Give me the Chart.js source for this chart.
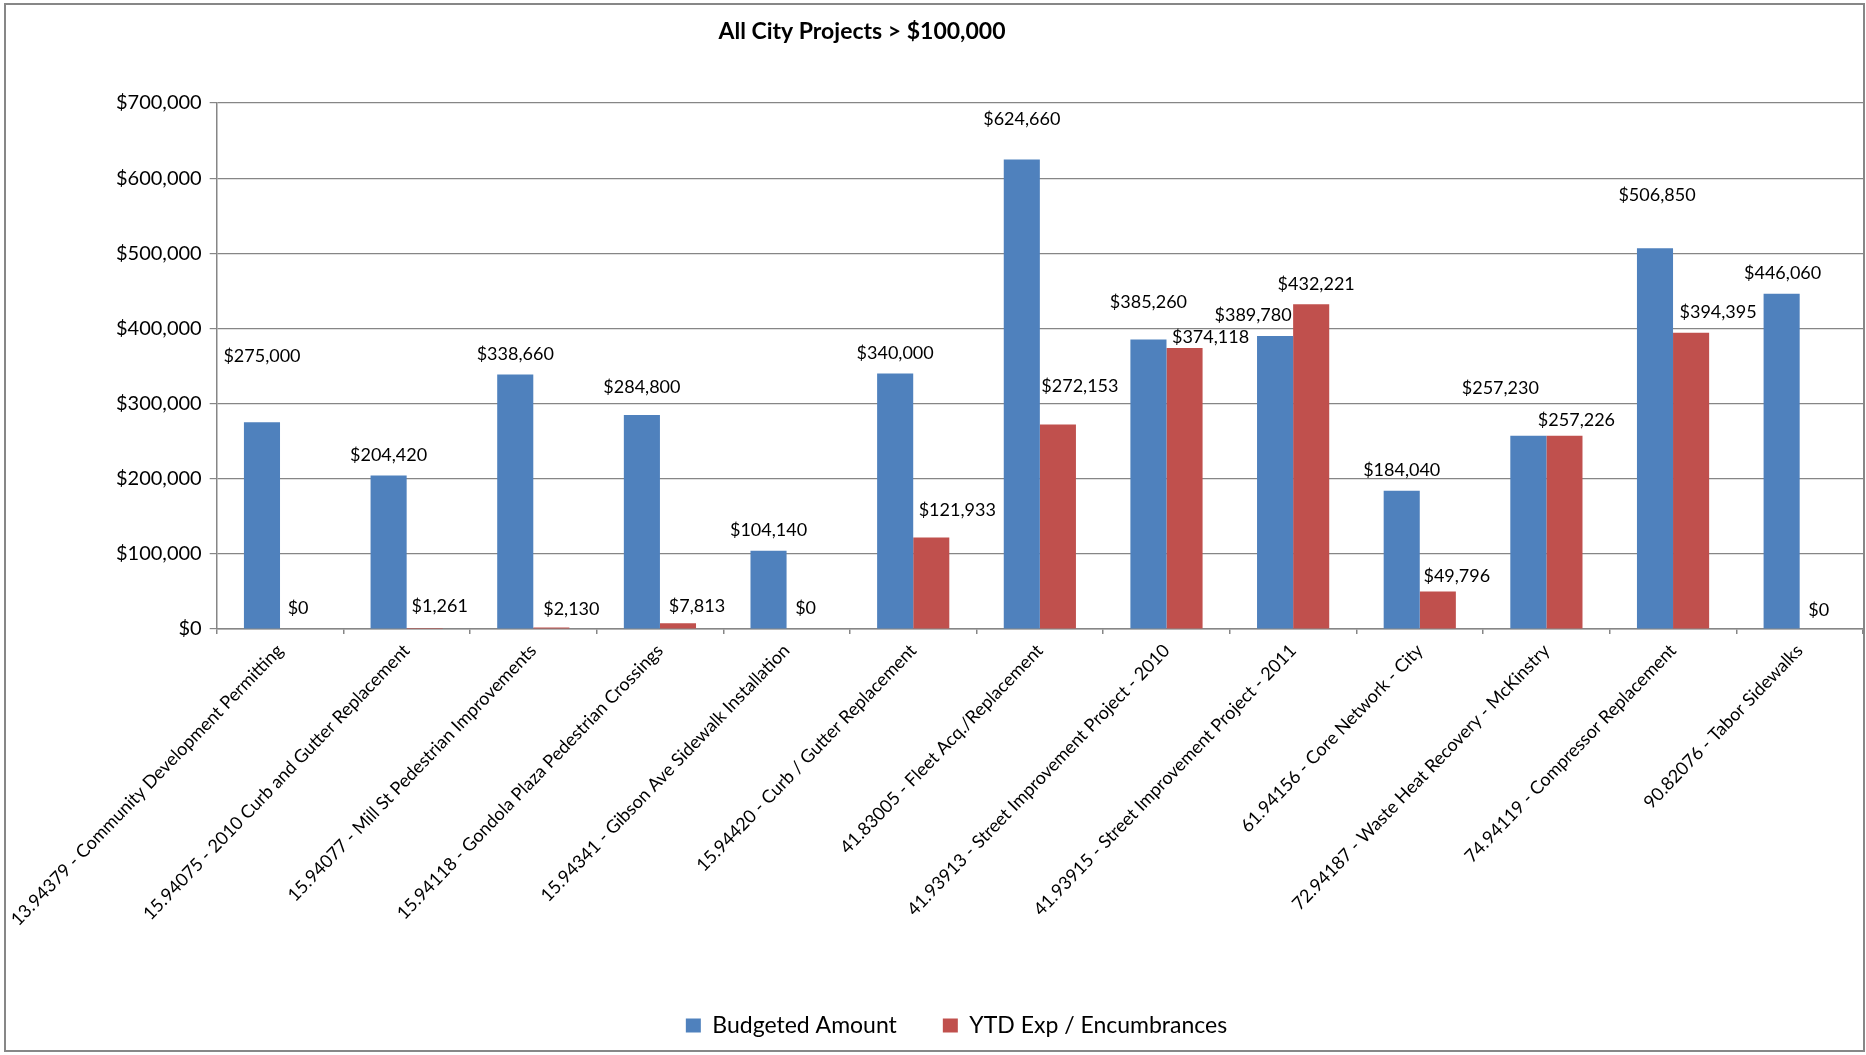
<!DOCTYPE html>
<html>
<head>
<meta charset="utf-8">
<title>All City Projects &gt; $100,000</title>
<script src="https://cdn.jsdelivr.net/npm/chart.js@4.4.1/dist/chart.umd.min.js"></script>
<style>
  html, body { margin: 0; padding: 0; background: #ffffff; }
  #wrap { position: relative; width: 1866px; height: 1055px; }
</style>
</head>
<body>
<div id="wrap"><canvas id="projects" width="1866" height="1055"></canvas></div>
<script>
// Project list and dollar amounts
const categories = [
  '13.94379 - Community Development Permitting',
  '15.94075 - 2010 Curb and Gutter Replacement',
  '15.94077 - Mill St Pedestrian Improvements',
  '15.94118 - Gondola Plaza Pedestrian Crossings',
  '15.94341 - Gibson Ave Sidewalk Installation',
  '15.94420 - Curb / Gutter Replacement',
  '41.83005 - Fleet Acq./Replacement',
  '41.93913 - Street Improvement Project - 2010',
  '41.93915 - Street Improvement Project - 2011',
  '61.94156 - Core Network - City',
  '72.94187 - Waste Heat Recovery - McKinstry',
  '74.94119 - Compressor Replacement',
  '90.82076 - Tabor Sidewalks'
];
const budgetedAmount = [275000, 204420, 338660, 284800, 104140, 340000, 624660, 385260, 389780, 184040, 257230, 506850, 446060];
const ytdExpEncumbrances = [0, 1261, 2130, 7813, 0, 121933, 272153, 374118, 432221, 49796, 257226, 394395, 0];
const yTickValues = [0, 100000, 200000, 300000, 400000, 500000, 600000, 700000];

const seriesNames = ['Budgeted Amount', 'YTD Exp / Encumbrances'];
const seriesColors = ['#4F81BD', '#C0504D'];

// Hand-placed value labels: [dx, dy] in pixels, dy moves the label up
const budgetLabelShift = [[0,46],[0,0],[0,0],[0,7],[0,0],[0,0],[0,20],[0,17],[-22,0],[0,0],[-28,27],[2,32],[1,0]];
const ytdLabelShift    = [[0,0],[15,1],[20,-2],[19,-4],[1,0],[26,7],[22,18],[26,-10],[5,0],[19,-5],[12,-5],[27,0],[1,-2]];

const FONT = 'Lato, "Open Sans", "DejaVu Sans", sans-serif';
const money = v => '$' + Number(v).toLocaleString('en-US');

const frame = {
  id: 'frame',
  beforeDraw(chart) {
    const ctx = chart.ctx;
    ctx.save();
    ctx.fillStyle = '#ffffff';
    ctx.fillRect(0, 0, chart.width, chart.height);
    ctx.strokeStyle = '#878787';
    ctx.lineWidth = 2;
    ctx.strokeRect(5, 4, chart.width - 7, chart.height - 8);
    ctx.restore();
  }
};

const heading = {
  id: 'heading',
  afterDraw(chart, args, opts) {
    const ctx = chart.ctx;
    ctx.save();
    ctx.font = 'bold 23px ' + FONT;
    ctx.fillStyle = '#000000';
    ctx.textAlign = 'center';
    ctx.textBaseline = 'middle';
    ctx.fillText(opts.text, opts.x, opts.y);
    ctx.restore();
  }
};

const valueLabels = {
  id: 'valueLabels',
  afterDatasetsDraw(chart) {
    const ctx = chart.ctx;
    const shifts = [budgetLabelShift, ytdLabelShift];
    ctx.save();
    ctx.font = '18px ' + FONT;
    ctx.fillStyle = '#000000';
    ctx.textAlign = 'center';
    ctx.textBaseline = 'middle';
    chart.data.datasets.forEach((ds, di) => {
      chart.getDatasetMeta(di).data.forEach((bar, i) => {
        const [dx, dy] = shifts[di][i];
        ctx.fillText(money(ds.data[i]), bar.x + dx, bar.y - 20.5 - dy);
      });
    });
    ctx.restore();
  }
};

function build() {
  const gridGrey = '#868686';
  new Chart(document.getElementById('projects'), {
    type: 'bar',
    data: {
      labels: categories,
      datasets: [
        { label: seriesNames[0], data: budgetedAmount, backgroundColor: seriesColors[0], borderWidth: 0 },
        { label: seriesNames[1], data: ytdExpEncumbrances, backgroundColor: seriesColors[1], borderWidth: 0 }
      ]
    },
    options: {
      responsive: false,
      devicePixelRatio: 1,
      animation: false,
      events: [],
      layout: { padding: { left: 50, right: 3, top: 103, bottom: 8 } },
      datasets: { bar: { categoryPercentage: 0.57, barPercentage: 1.0 } },
      plugins: {
        title: { display: false },
        tooltip: { enabled: false },
        heading: { text: 'All City Projects > $100,000', x: 862, y: 32 },
        legend: {
          position: 'bottom',
          labels: {
            font: { family: FONT, size: 23 },
            color: '#000000',
            boxWidth: 15,
            boxHeight: 14,
            padding: 46
          }
        }
      },
      scales: {
        x: {
          offset: true,
          grid: { drawOnChartArea: false, drawTicks: true, tickLength: 5, color: gridGrey, lineWidth: 1.5, offset: true },
          border: { color: gridGrey, width: 1.5 },
          ticks: {
            font: { family: FONT, size: 18 },
            color: '#000000',
            minRotation: 46,
            maxRotation: 46,
            autoSkip: false,
            padding: 6
          },
          afterFit: s => { s.height = 339; s.paddingLeft = 0; s.paddingRight = 0; }
        },
        y: {
          min: 0,
          max: 700000,
          afterBuildTicks: s => { s.ticks = yTickValues.map(v => ({ value: v })); },
          grid: { color: gridGrey, lineWidth: 1.2, tickLength: 7 },
          border: { color: gridGrey, width: 1.5 },
          ticks: {
            font: { family: FONT, size: 20 },
            color: '#000000',
            padding: 8,
            callback: v => money(v)
          },
          afterFit: s => { s.width = 166.7; }
        }
      }
    },
    plugins: [frame, heading, valueLabels]
  });
}

const fontReady = document.fonts && document.fonts.load
  ? Promise.all(['18px Lato', '20px Lato', 'bold 23px Lato'].map(f => document.fonts.load(f))).catch(() => {})
  : Promise.resolve();
fontReady.then(build);
</script>
</body>
</html>
